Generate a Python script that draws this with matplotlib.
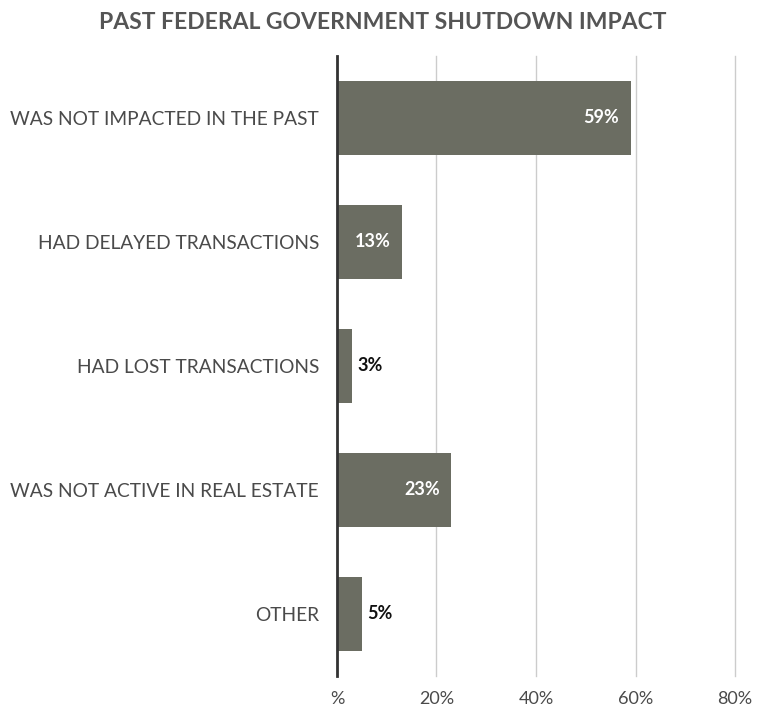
import matplotlib
matplotlib.use('Agg')
import matplotlib.pyplot as plt
from matplotlib.ticker import FixedLocator, FixedFormatter

categories = ['WAS NOT IMPACTED IN THE PAST',
              'HAD DELAYED TRANSACTIONS',
              'HAD LOST TRANSACTIONS',
              'WAS NOT ACTIVE IN REAL ESTATE',
              'OTHER']
values = [59, 13, 3, 23, 5]
xticks = [0, 20, 40, 60, 80]
xtick_labels = ['%', '20%', '40%', '60%', '80%']

bar_color = '#6b6d62'
text_color = '#4a4a4a'
plt.rcParams['font.family'] = ['Lato', 'DejaVu Sans']

fig = plt.figure(figsize=(7.75, 7.26), dpi=100)
ax = fig.add_axes([0.4348, 0.0689, 0.5136, 0.854])

y = list(range(len(categories)))
ax.barh(y, values, height=0.6, color=bar_color, zorder=3)

for yi, v in zip(y, values):
    if v >= 10:
        ax.annotate(f'{v}%', (v, yi), xytext=(-8, 0), textcoords='offset points',
                    ha='right', va='center', color='white', fontsize=13,
                    fontweight='bold', zorder=4)
    else:
        ax.annotate(f'{v}%', (v, yi), xytext=(4, 0), textcoords='offset points',
                    ha='left', va='center', color='#111111', fontsize=13,
                    fontweight='bold', zorder=4)

ax.set_ylim(len(categories) - 0.5, -0.5)
ax.set_xlim(0, 80)
ax.set_yticks(y)
ax.set_yticklabels(categories)
ax.xaxis.set_major_locator(FixedLocator(xticks))
ax.xaxis.set_major_formatter(FixedFormatter(xtick_labels))
ax.tick_params(axis='y', length=0, pad=13, labelsize=13.8, labelcolor=text_color)
ax.tick_params(axis='x', length=0, pad=11, labelsize=13, labelcolor=text_color)

ax.grid(axis='x', color='#cccccc', linewidth=1, zorder=0)
for gl in ax.get_xgridlines():
    gl.set_clip_on(False)
for side in ['top', 'right', 'bottom']:
    ax.spines[side].set_visible(False)
ax.spines['left'].set_color('#333333')
ax.spines['left'].set_linewidth(2)
ax.spines['left'].set_zorder(5)

fig.text(0.494, 0.969, 'PAST FEDERAL GOVERNMENT SHUTDOWN IMPACT',
         ha='center', va='center', fontsize=16.5, fontweight='bold', color='#555555')

fig.savefig('out.png', dpi=100)
